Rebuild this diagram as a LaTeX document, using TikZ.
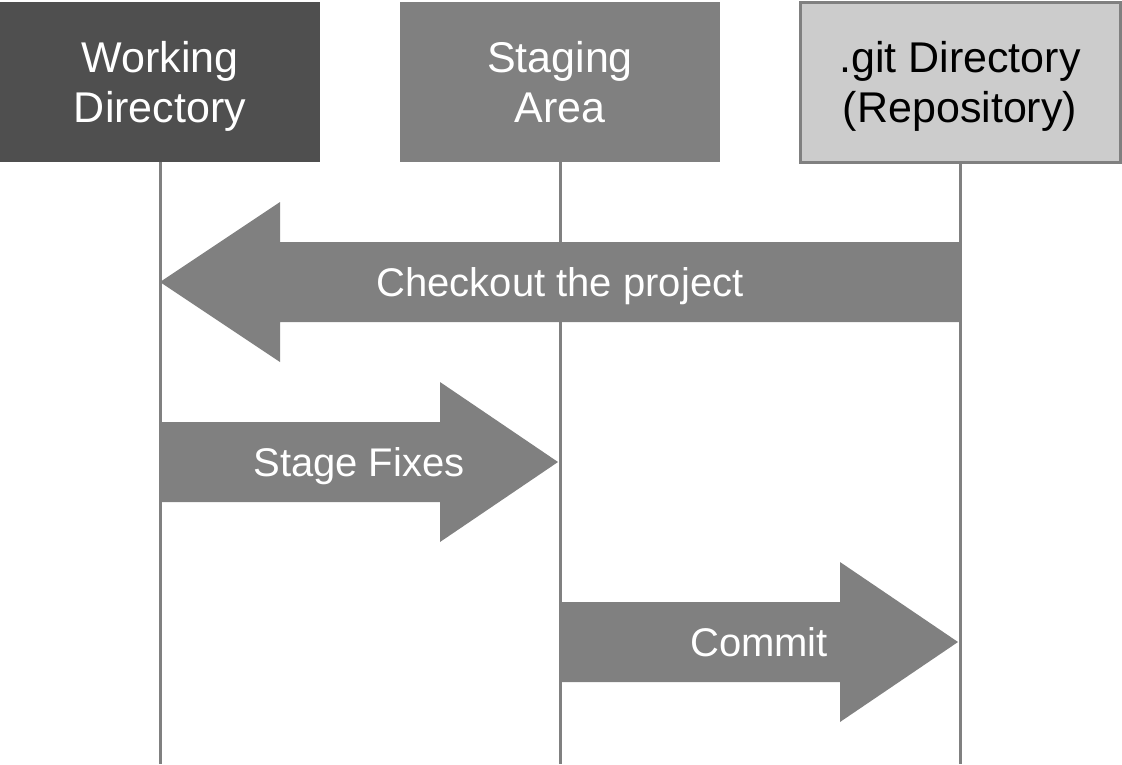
\documentclass[tikz,border=0pt]{standalone}
\usepackage{fontspec}
\setmainfont{Liberation Sans}
\usetikzlibrary{positioning}
\definecolor{wdgray}{HTML}{4F4F4F}
\definecolor{midgray}{HTML}{808080}
\definecolor{repogray}{HTML}{CCCCCC}

\begin{document}
\begin{tikzpicture}[x=1pt,y=-1pt,
    area/.style={minimum width=320pt, minimum height=160pt, inner sep=0pt, outer sep=0pt,
                 align=center, font=\fontsize{43}{50}\selectfont},
    lifeline/.style={draw=midgray, line width=3pt},
    flow/.style={fill=midgray},
    flowtext/.style={text=white, inner sep=0pt, text height=29pt, text depth=0pt,
                     font=\fontsize{40}{48}\selectfont}]
  \useasboundingbox (0,0) rectangle (1122,764);

  % the three areas
  \node[area, fill=wdgray, text=white] (wd) at (160,82) {Working\\\smash{Directory}};
  \node[area, fill=midgray, text=white, right=80pt of wd] (sa) {Staging\\Area};
  \node[area, fill=repogray, draw=midgray, line width=3pt, right=80pt of sa] (git) {.git Directory\\\smash{(Repository)}};

  % lifelines
  \coordinate (bottom) at (0,764);
  \foreach \n in {wd,sa,git}
    \draw[lifeline] (\n.south) -- (\n.south |- bottom);

  % rows of the arrows
  \coordinate (row1) at (0,282);
  \coordinate (row2) at (0,462);
  \coordinate (row3) at (0,642);

  % checkout
  \fill[flow] (wd.south |- row1) -- ++(120,-80) -- ++(0,40) -- ++(680,0) -- ++(0,80)
    -- ++(-680,0) -- ++(0,40) -- cycle;
  \path (git.south |- row1) -- node[flowtext] (co) {Checkout the project} (wd.south |- row1);

  % stage fixes
  \fill[flow] (wd.south |- row2) ++(0,-40) -- ++(280,0) -- ++(0,-40) -- ++(118,80)
    -- ++(-118,80) -- ++(0,-40) -- ++(-280,0) -- cycle;
  \path (wd.south |- row2) -- node[flowtext] (sf) {Stage Fixes} ++(398,0);

  % commit
  \fill[flow] (sa.south |- row3) ++(0,-40) -- ++(280,0) -- ++(0,-40) -- ++(118,80)
    -- ++(-118,80) -- ++(0,-40) -- ++(-280,0) -- cycle;
  \path (sa.south |- row3) -- node[flowtext] (cm) {Commit} ++(398,0);
\end{tikzpicture}
\end{document}
